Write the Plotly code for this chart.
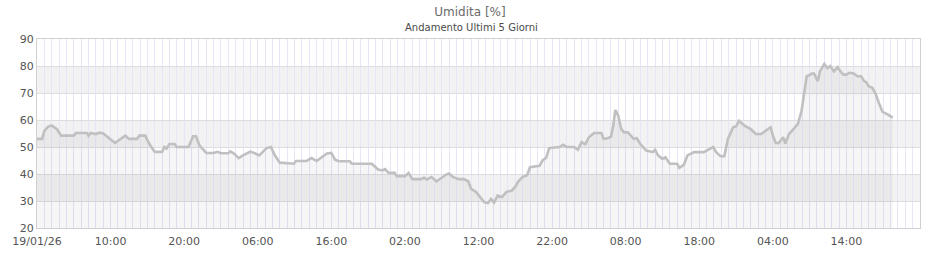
import pandas as pd
import plotly.graph_objects as go

# ---- data ----
start_date = "2026-01-19 00:00"
hours = [0, 0.7, 1.0, 1.5, 2.0, 2.7, 3.3, 5.0, 5.3, 6.8, 7.0, 7.3, 8.0, 8.5, 9.0, 9.5, 10.0, 10.6,
         11.2, 12.0, 12.5, 13.6, 13.9, 14.7, 15.3, 16.0, 17.0, 17.3, 17.6, 18.0, 18.7, 19.0, 20.6,
         21.2, 21.6, 22.1, 23.0, 24.0, 24.5, 25.0, 26.0, 26.3, 26.8, 27.4, 28.0, 29.0, 29.6, 30.2,
         31.2, 31.8, 32.3, 33.0, 34.9, 35.2, 36.6, 37.3, 38.0, 38.5, 39.4, 40.0, 40.5, 41.0, 42.5,
         42.8, 45.5, 46.4, 47.0, 47.3, 47.8, 48.6, 48.9, 50.0, 50.5, 51.0, 52.2, 52.6, 53.0, 53.6,
         54.3, 55.0, 55.6, 56.0, 56.5, 57.3, 58.0, 58.6, 59.0, 59.6, 60.4, 60.8, 61.3, 61.7, 62.1,
         62.6, 63.2, 63.8, 64.5, 65.0, 65.4, 66.0, 66.6, 67.0, 68.3, 68.7, 69.2, 69.6, 71.0, 71.5,
         72.0, 73.0, 73.5, 74.0, 74.5, 75.0, 75.7, 76.7, 77.0, 77.5, 78.0, 78.3, 78.6, 79.0, 79.4,
         79.8, 80.3, 80.7, 81.1, 81.5, 82.0, 82.8, 83.7, 84.0, 84.4, 85.0, 85.4, 86.0, 87.0, 87.3,
         87.9, 88.4, 88.8, 89.3, 90.6, 91.3, 91.9, 92.3, 92.9, 93.4, 93.9, 94.6, 95.0, 95.4, 96.2,
         97.0, 97.7, 98.4, 99.0, 99.7, 100.0, 100.4, 100.8, 101.4, 101.7, 102.2, 102.8, 103.4,
         103.9, 104.2, 104.6, 104.9, 105.3, 105.6, 106.1, 106.4, 107.0, 107.4, 107.8, 108.3, 108.8,
         109.2, 109.6, 110.0, 110.4, 111.0, 111.5, 112.0, 112.4, 112.7, 113.0, 113.5, 114.0, 114.4,
         114.9, 115.6, 116.3]
humidity = [53, 53, 56, 57.5, 58, 56.6, 54.2, 54.2, 55.2, 55.2, 54.2, 55.2, 54.8, 55.3, 55, 54, 53, 51.5,
            52.7, 54.2, 53, 53, 54.2, 54.2, 51, 48.2, 48.2, 50, 49.4, 51.1, 51.1, 50, 50,
            54, 54, 50.5, 47.8, 47.8, 48.2, 47.7, 47.7, 48.4, 47.5, 45.9, 46.9, 48.3, 47.7, 46.9,
            49.6, 50, 47, 44.2, 43.8, 44.8, 44.8, 45.9, 44.8, 45.9, 47.6, 47.8, 45.3, 44.7, 44.7,
            43.8, 43.8, 41.6, 41.4, 41.8, 40.4, 40.4, 39.2, 39.2, 40.4, 38.1, 38.1, 38.6, 38, 38.9,
            37.3, 38.6, 39.8, 40.2, 38.9, 38.1, 38.1, 37.3, 34.5, 33.5, 31, 29.5, 29.2, 30.8, 29.4,
            32, 31.5, 33.4, 33.8, 35.3, 37.2, 38.9, 39.5, 42.5, 43, 45, 46, 49.6, 50, 50.8,
            50, 50, 49, 51.8, 51, 53.6, 55.2, 55.2, 53, 53.2, 53.8, 57.8, 63.7, 61.5, 56.6,
            55.4, 55.4, 54.2, 53, 53.3, 51.1, 48.7, 48.1, 49, 46.9, 45.6, 46.2, 43.8, 43.8, 42.3,
            43.4, 46.9, 47.5, 48.1, 48.1, 49.1, 50, 48.1, 46.6, 46.6, 53, 57.3, 57.6, 59.7, 57.8,
            56.6, 54.8, 54.8, 56, 57.3, 54.3, 51.5, 51.5, 53.6, 51.3, 54.8, 56.6, 58.5,
            63.3, 68.9, 76.2, 76.5, 77.2, 77.2, 74.4, 78, 80.8, 79.2, 80, 78, 79.6,
            78, 76.8, 76.8, 77.5, 77.2, 76.2, 76.2, 74.4, 74, 72.5, 72, 69.5, 66.4,
            63, 62.1, 60.9]

tick_hours = [0, 10, 20, 30, 40, 50, 60, 70, 80, 90, 100, 110]
tick_labels = ["19/01/26", "10:00", "20:00", "06:00", "16:00", "02:00",
               "12:00", "22:00", "08:00", "18:00", "04:00", "14:00"]
band_ranges = [(70, 80), (50, 60), (30, 40)]

t0 = pd.Timestamp(start_date)
times = [t0 + pd.Timedelta(hours=h) for h in hours]
tick_vals = [t0 + pd.Timedelta(hours=h) for h in tick_hours]
x_end = t0 + pd.Timedelta(hours=120)

fig = go.Figure()
fig.add_trace(go.Scatter(
    x=times, y=humidity, mode="lines",
    line=dict(color="rgb(192,192,192)", width=2.6),
    fill="tozeroy", fillcolor="rgba(0,0,0,0.035)",
    hoverinfo="x+y", showlegend=False,
))

shapes = []
for y0, y1 in band_ranges:
    shapes.append(dict(type="rect", xref="paper", yref="y", x0=0, x1=1, y0=y0, y1=y1,
                       fillcolor="#f2f2f2", line=dict(width=0), layer="below"))

font = "DejaVu Sans, Verdana, sans-serif"
fig.update_layout(
    width=940, height=260,
    margin=dict(l=35, r=20, t=39, b=30),
    paper_bgcolor="white", plot_bgcolor="white",
    font=dict(family=font, size=11, color="#555555"),
    shapes=shapes,
    title=dict(text="Umidita [%]", x=0.5, xanchor="center", xref="container",
               y=1 - 12 / 260, yanchor="middle", yref="container",
               font=dict(family=font, size=12, color="#6a6a6a")),
    annotations=[dict(text="Andamento Ultimi 5 Giorni", xref="paper", yref="paper",
                      x=(470 - 35) / 885, y=1 + 12 / 191, xanchor="center", yanchor="middle",
                      showarrow=False, font=dict(family=font, size=10, color="#4a4a4a"))],
    xaxis=dict(
        range=[t0, x_end], type="date",
        tickmode="array", tickvals=tick_vals, ticktext=tick_labels,
        showgrid=True, gridcolor="#e6e6f8", gridwidth=1,
        minor=dict(dtick=3600000, tick0=t0, showgrid=True, gridcolor="#e6e6f8", gridwidth=1),
        showline=True, linecolor="#d0d0d0", linewidth=1, mirror=True,
        ticks="", zeroline=False, ticklabelstandoff=3,
        tickfont=dict(family=font, size=11, color="#555555"),
    ),
    yaxis=dict(
        range=[20, 90], dtick=10, tick0=20,
        showgrid=True, gridcolor="#dddddd", gridwidth=1,
        showline=True, linecolor="#d0d0d0", linewidth=1, mirror=True,
        ticks="", zeroline=False,
        tickfont=dict(family=font, size=11, color="#555555"),
    ),
)

fig.write_html("out.html")
